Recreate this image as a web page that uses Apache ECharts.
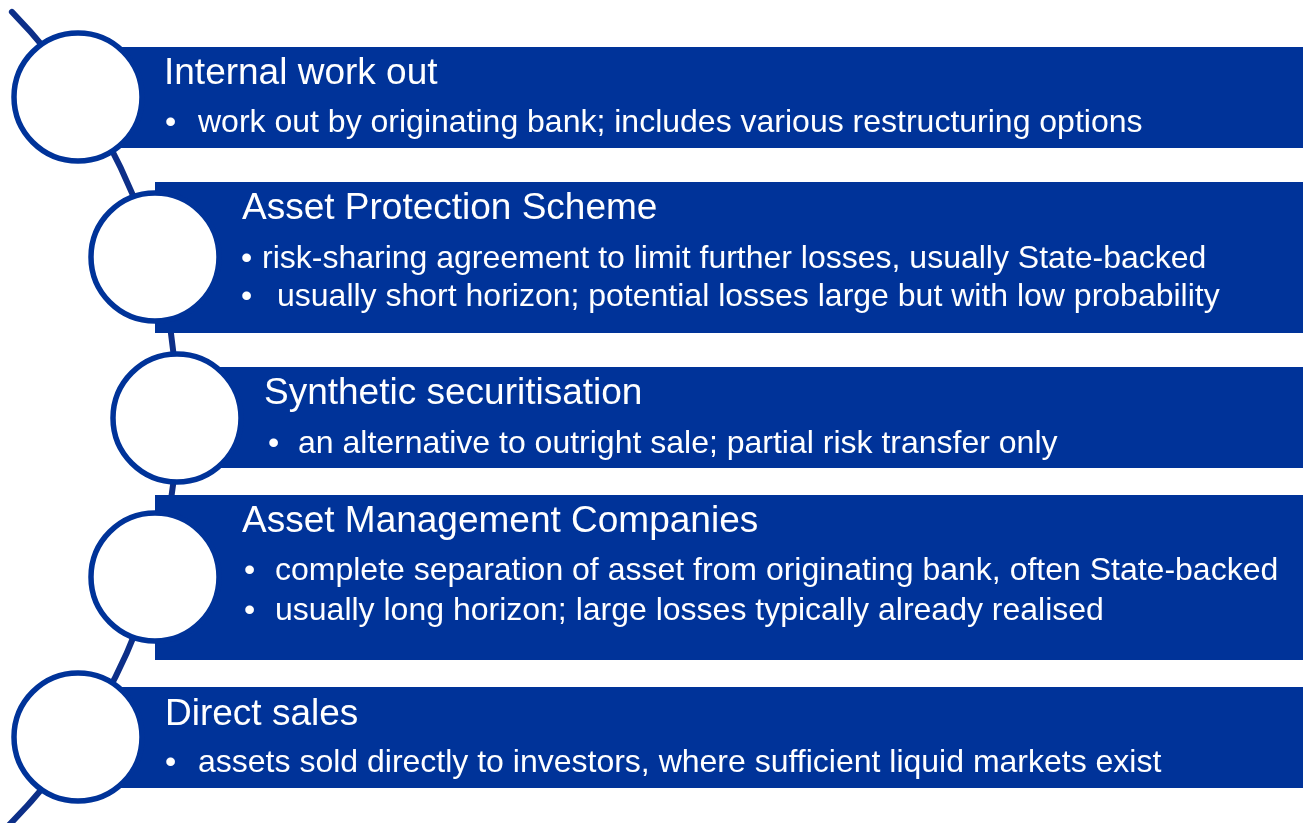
<!DOCTYPE html>
<html>
<head>
<meta charset="utf-8">
<script src="https://cdn.jsdelivr.net/npm/echarts@6/dist/echarts.min.js"></script>
<style>
  html, body { margin: 0; padding: 0; background: #fff; }
  #main { width: 1303px; height: 823px; }
</style>
</head>
<body>
<div id="main"></div>
<script>
// content
const titles = [
  "Internal work out",
  "Asset Protection Scheme",
  "Synthetic securitisation",
  "Asset Management Companies",
  "Direct sales"
];
const bullets = [
  ["work out by originating bank; includes various restructuring options"],
  ["risk-sharing agreement to limit further losses, usually State-backed",
   "usually short horizon; potential losses large but with low probability"],
  ["an alternative to outright sale; partial risk transfer only"],
  ["complete separation of asset from originating bank, often State-backed",
   "usually long horizon; large losses typically already realised"],
  ["assets sold directly to investors, where sufficient liquid markets exist"]
];

// layout, in page pixels (y grows downward)
const W = 1303, H = 823;
const bandTop = [47, 182, 367, 495, 687];
const bandBottom = [148, 333, 468, 660, 788];
const circleX = [78, 155, 177, 155, 78];
const circleY = [97, 257, 418, 577, 737];
const circleR = 64;
const titleX = [164, 242, 264, 242, 165];
const titleBase = [82, 217, 402, 530, 723];
const bulletX = [[165], [241, 241], [268], [244, 244], [165]];
const textX = [[198], [262, 277], [298], [275, 275], [198]];
const lineBase = [[130], [266, 304], [451], [578, 618], [770]];
const arcC = [-402.5, 417], arcR = 579.5, arcFrom = -0.774, arcTo = 0.85;

const BLUE = "#003399";
const FONT = '"Liberation Sans", Arial, sans-serif';
const TITLE_SIZE = 37, TEXT_SIZE = 32;

function txt(s, x, base, size, api) {
  const p = api.coord([x, base - 0.22 * size]);
  return {
    type: "text",
    style: {
      text: s, x: p[0], y: p[1], fill: "#fff",
      fontSize: size, fontFamily: FONT,
      align: "left", verticalAlign: "middle"
    }
  };
}

function renderArc(params, api) {
  const c = api.coord(arcC);
  const r = api.size([arcR, 0])[0];
  return {
    type: "arc",
    shape: { cx: c[0], cy: c[1], r: r, startAngle: arcFrom, endAngle: arcTo, clockwise: true },
    style: { stroke: "#0d2f88", lineWidth: 6, fill: null, lineCap: "round" }
  };
}

function renderItem(params, api) {
  const i = api.value(0);
  const tl = api.coord([circleX[i], bandTop[i]]);
  const br = api.coord([W, bandBottom[i]]);
  const c = api.coord([circleX[i], circleY[i]]);
  const r = api.size([circleR, 0])[0];
  const children = [
    {
      type: "rect",
      shape: { x: tl[0], y: tl[1], width: br[0] - tl[0], height: br[1] - tl[1] },
      style: { fill: BLUE }
    },
    {
      type: "circle",
      shape: { cx: c[0], cy: c[1], r: r },
      style: { fill: "#fff", stroke: BLUE, lineWidth: 5.5 }
    },
    txt(titles[i], titleX[i], titleBase[i], TITLE_SIZE, api)
  ];
  bullets[i].forEach((b, k) => {
    children.push(txt("\u2022", bulletX[i][k], lineBase[i][k], TEXT_SIZE, api));
    children.push(txt(b, textX[i][k], lineBase[i][k], TEXT_SIZE, api));
  });
  return { type: "group", children: children };
}

const chart = echarts.init(document.getElementById("main"), null, { renderer: "canvas" });
chart.setOption({
  animation: false,
  backgroundColor: "#fff",
  grid: { left: 0, right: 0, top: 0, bottom: 0 },
  xAxis: { type: "value", min: 0, max: W, show: false },
  yAxis: { type: "value", min: 0, max: H, inverse: true, show: false },
  series: [
    {
      type: "custom",
      z: 1,
      renderItem: renderArc,
      data: [[0]]
    },
    {
      type: "custom",
      z: 2,
      renderItem: renderItem,
      data: titles.map((t, i) => [i])
    }
  ]
});
</script>
</body>
</html>
